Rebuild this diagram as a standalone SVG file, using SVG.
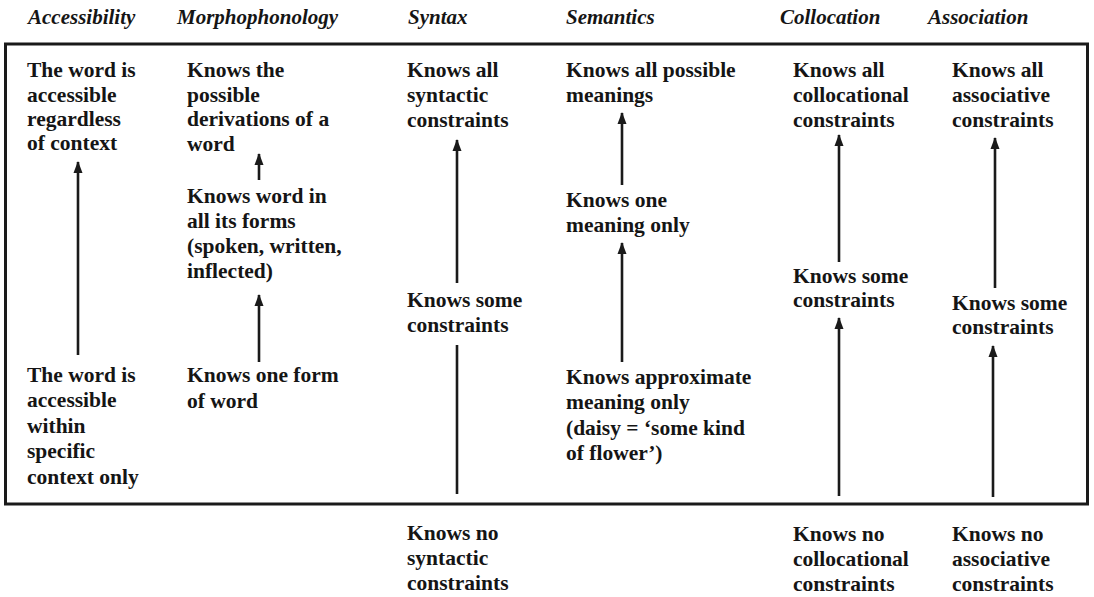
<svg xmlns="http://www.w3.org/2000/svg" width="1094" height="597" viewBox="0 0 1094 597">
<style>
.h{font-family:"Liberation Serif","Times New Roman",serif;font-weight:bold;font-style:italic;font-size:21px;fill:#151515}
.t{font-family:"Liberation Serif","Times New Roman",serif;font-weight:bold;font-size:21.5px;fill:#151515}
.c{stroke:#1a1a1a;stroke-width:2.6;fill:none}
</style>
<defs>
<marker id="ah" markerUnits="userSpaceOnUse" markerWidth="12" markerHeight="10" viewBox="0 0 12 10" refX="11" refY="5" orient="auto">
<path d="M12,5 L0,0.5 L0,9.5 Z" fill="#1a1a1a"/>
</marker>
</defs>
<rect width="1094" height="597" fill="#ffffff"/>
<rect id="frame" x="5.5" y="44" width="1082" height="460" fill="none" stroke="#1a1a1a" stroke-width="3"/>
<g id="headers">
<text class="h" x="28" y="24">Accessibility</text>
<text class="h" x="177" y="24">Morphophonology</text>
<text class="h" x="408" y="24">Syntax</text>
<text class="h" x="566" y="24">Semantics</text>
<text class="h" x="780" y="24">Collocation</text>
<text class="h" x="928" y="24">Association</text>
</g>
<g id="acc-top"><text class="t" x="27" y="77">The word is</text><text class="t" x="27" y="102">accessible</text><text class="t" x="27" y="126">regardless</text><text class="t" x="27" y="150">of context</text></g>
<g id="acc-bottom"><text class="t" x="27" y="382">The word is</text><text class="t" x="27" y="407">accessible</text><text class="t" x="27" y="433">within</text><text class="t" x="27" y="458">specific</text><text class="t" x="27" y="484">context only</text></g>
<g id="mor-top"><text class="t" x="187" y="77">Knows the</text><text class="t" x="187" y="102">possible</text><text class="t" x="187" y="126">derivations of a</text><text class="t" x="187" y="151">word</text></g>
<g id="mor-mid"><text class="t" x="187" y="203">Knows word in</text><text class="t" x="187" y="228">all its forms</text><text class="t" x="187" y="253">(spoken, written,</text><text class="t" x="187" y="278">inflected)</text></g>
<g id="mor-bottom"><text class="t" x="187" y="382">Knows one form</text><text class="t" x="187" y="408">of word</text></g>
<g id="syn-top"><text class="t" x="407" y="77">Knows all</text><text class="t" x="407" y="102">syntactic</text><text class="t" x="407" y="127">constraints</text></g>
<g id="syn-mid"><text class="t" x="407" y="307">Knows some</text><text class="t" x="407" y="332">constraints</text></g>
<g id="syn-bottom"><text class="t" x="407" y="540">Knows no</text><text class="t" x="407" y="565">syntactic</text><text class="t" x="407" y="590">constraints</text></g>
<g id="sem-top"><text class="t" x="566" y="77">Knows all possible</text><text class="t" x="566" y="102">meanings</text></g>
<g id="sem-mid"><text class="t" x="566" y="207">Knows one</text><text class="t" x="566" y="232">meaning only</text></g>
<g id="sem-bottom"><text class="t" x="566" y="384">Knows approximate</text><text class="t" x="566" y="409">meaning only</text><text class="t" x="566" y="435">(daisy = ‘some kind</text><text class="t" x="566" y="460">of flower’)</text></g>
<g id="col-top"><text class="t" x="793" y="77">Knows all</text><text class="t" x="793" y="102">collocational</text><text class="t" x="793" y="127">constraints</text></g>
<g id="col-mid"><text class="t" x="793" y="283">Knows some</text><text class="t" x="793" y="307">constraints</text></g>
<g id="col-bottom"><text class="t" x="793" y="541">Knows no</text><text class="t" x="793" y="566">collocational</text><text class="t" x="793" y="591">constraints</text></g>
<g id="ass-top"><text class="t" x="952" y="77">Knows all</text><text class="t" x="952" y="102">associative</text><text class="t" x="952" y="127">constraints</text></g>
<g id="ass-mid"><text class="t" x="952" y="310">Knows some</text><text class="t" x="952" y="334">constraints</text></g>
<g id="ass-bottom"><text class="t" x="952" y="541">Knows no</text><text class="t" x="952" y="566">associative</text><text class="t" x="952" y="591">constraints</text></g>
<g id="connectors">
<line class="c" x1="78" y1="355" x2="78" y2="162" marker-end="url(#ah)"/>
<line class="c" x1="259" y1="180" x2="259" y2="154" marker-end="url(#ah)"/>
<line class="c" x1="259" y1="362" x2="259" y2="295" marker-end="url(#ah)"/>
<line class="c" x1="457" y1="283" x2="457" y2="140" marker-end="url(#ah)"/>
<line class="c" x1="457" y1="345" x2="457" y2="494"/>
<line class="c" x1="622" y1="185" x2="622" y2="113" marker-end="url(#ah)"/>
<line class="c" x1="622" y1="362" x2="622" y2="243" marker-end="url(#ah)"/>
<line class="c" x1="839" y1="262" x2="839" y2="135" marker-end="url(#ah)"/>
<line class="c" x1="839" y1="496" x2="839" y2="318" marker-end="url(#ah)"/>
<line class="c" x1="995" y1="288" x2="995" y2="138" marker-end="url(#ah)"/>
<line class="c" x1="993" y1="497" x2="993" y2="346" marker-end="url(#ah)"/>
</g>
</svg>
